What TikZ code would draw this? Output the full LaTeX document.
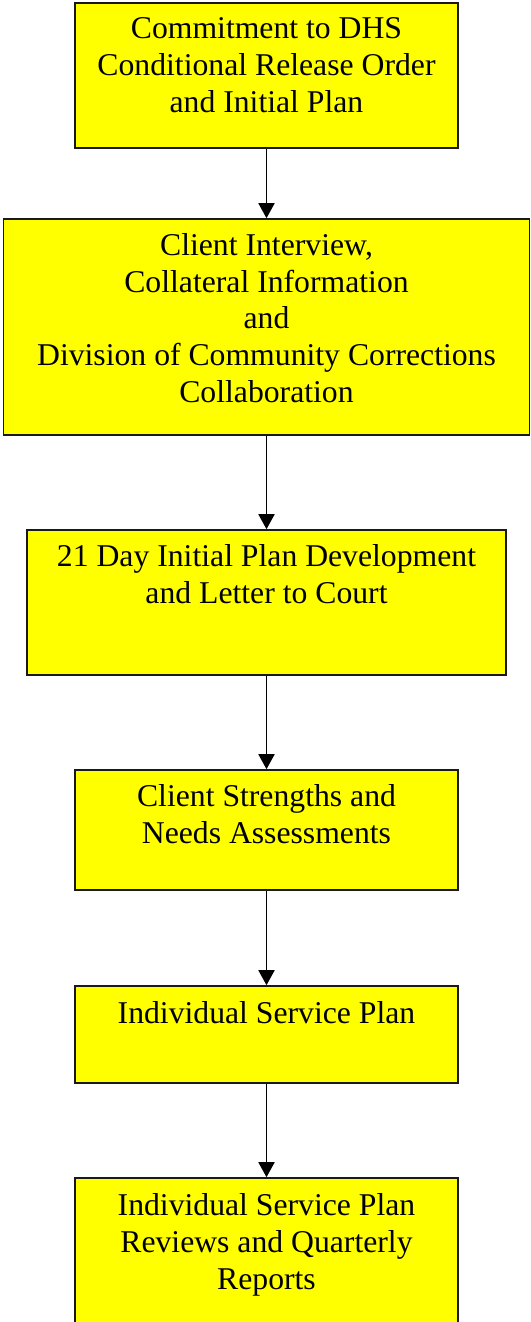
\documentclass[tikz,border=0pt]{standalone}
\usepackage{fontspec}
\setmainfont{Liberation Serif}
\usetikzlibrary{arrows.meta,calc}
\definecolor{boxyellow}{RGB}{255,255,0}
\definecolor{boxline}{RGB}{25,25,25}
\begin{document}
\begin{tikzpicture}[x=1pt,y=-1pt,
  flowbox/.style={draw=boxline, line width=1.6pt, fill=boxyellow, rectangle, inner sep=0pt},
  boxtext/.style={anchor=north, inner sep=0pt, align=center, font=\fontsize{31.7}{36.8}\selectfont},
  flowarrow/.style={draw=black, line width=1.8pt, -{Triangle[width=16pt,length=15pt]}}]
\useasboundingbox (0,0) rectangle (530,1322);
% boxes
\node[flowbox, minimum width=383pt, minimum height=145pt] (b1) at (266.5,75.5) {};
\node[flowbox, minimum width=526pt, minimum height=216pt] (b2) at (266.5,327) {};
\node[flowbox, minimum width=479pt, minimum height=145pt] (b3) at (266.5,602.5) {};
\node[flowbox, minimum width=383pt, minimum height=120pt] (b4) at (266.5,830) {};
\node[flowbox, minimum width=383pt, minimum height=97pt] (b5) at (266.5,1034.5) {};
\node[flowbox, minimum width=383pt, minimum height=148pt] (b6) at (266.5,1252) {};
% texts
\node[boxtext] (t1) at ($(b1.north)+(0,15.5)$) {Commitment to DHS\\Conditional Release Order\\and Initial Plan};
\node[boxtext] (t2) at ($(b2.north)+(0,15)$) {Client Interview,\\Collateral Information\\and\\Division of Community Corrections\\Collaboration};
\node[boxtext] (t3) at ($(b3.north)+(0,15)$) {21 Day Initial Plan Development\\and Letter to Court};
\node[boxtext] (t4) at ($(b4.north)+(0,15)$) {Client Strengths and\\Needs Assessments};
\node[boxtext] (t5) at ($(b5.north)+(0,16)$) {Individual Service Plan};
\node[boxtext] (t6) at ($(b6.north)+(0,16)$) {Individual Service Plan\\Reviews and Quarterly\\Reports};
% connectors
\draw[flowarrow] (b1.south) -- (b2.north);
\draw[flowarrow] (b2.south) -- (b3.north);
\draw[flowarrow] (b3.south) -- (b4.north);
\draw[flowarrow] (b4.south) -- (b5.north);
\draw[flowarrow] (b5.south) -- (b6.north);
\end{tikzpicture}
\end{document}
